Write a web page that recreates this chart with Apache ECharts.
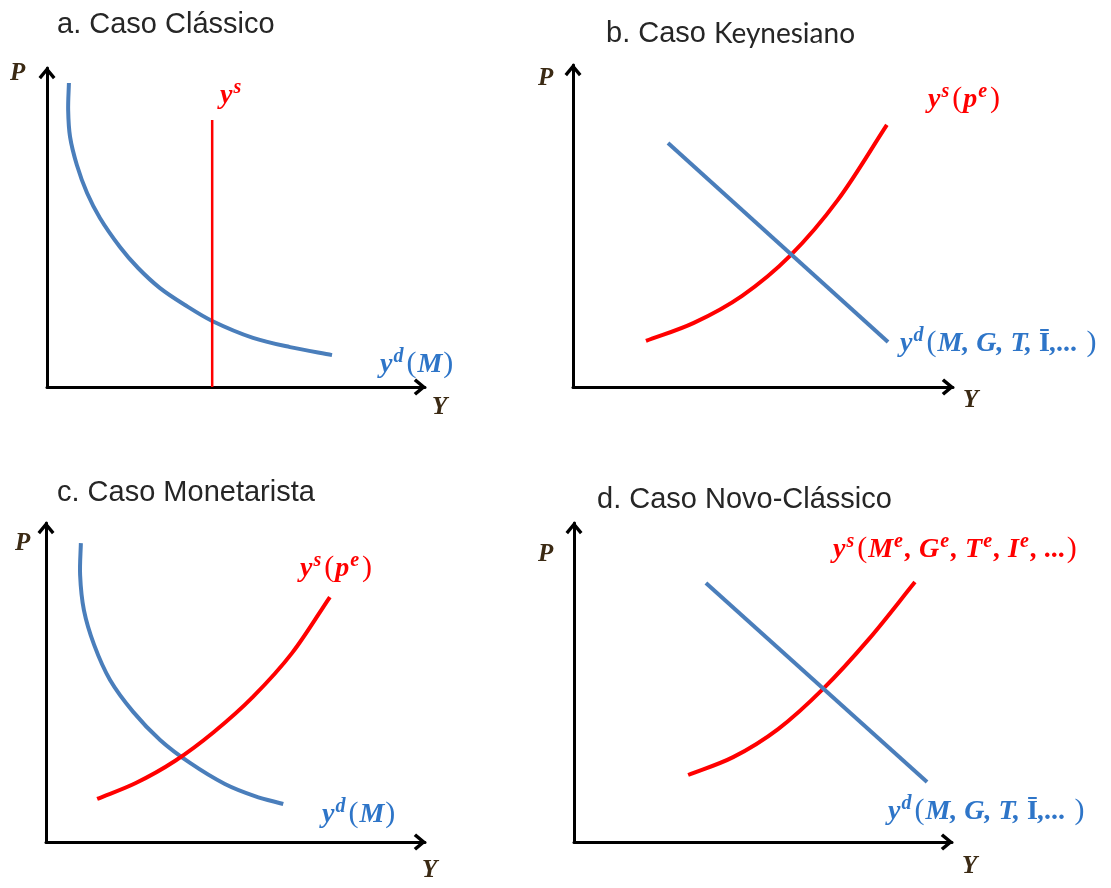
<!DOCTYPE html>
<html>
<head>
<meta charset="utf-8">
<script src="https://cdn.jsdelivr.net/npm/echarts@6/dist/echarts.min.js"></script>
<style>
  html, body { margin: 0; padding: 0; background: #ffffff; }
  #chart { width: 1111px; height: 888px; }
</style>
</head>
<body>
<div id="chart"></div>
<script>
// ---- Panel titles ----
const panelTitles = ['a. Caso Clássico', 'b. Caso ', 'c. Caso Monetarista', 'd. Caso Novo-Clássico'];
const keynesWord = 'Keynesiano';

// ---- Curves, in axis units (0..10 on both axes) ----
// a. Classical: aggregate demand hyperbola and vertical supply
const demandA = [[0.58, 9.53], [0.56, 8.68], [0.61, 7.84], [0.79, 6.96], [1.06, 6.08], [1.40, 5.30],
                 [1.93, 4.39], [2.41, 3.73], [2.99, 3.10], [3.65, 2.57], [4.37, 2.07], [5.45, 1.54],
                 [6.43, 1.25], [7.54, 1.00]];
const supplyA = [[4.37, 0], [4.37, 8.37]];
// b. Keynesian: straight demand, convex supply
const demandB = [[2.50, 7.58], [8.29, 1.40]];
const supplyB = [[1.92, 1.43], [3.18, 1.99], [4.45, 2.83], [5.71, 4.07], [6.97, 5.81], [8.26, 8.14]];
// c. Monetarist: demand hyperbola, convex supply
const demandC = [[0.92, 9.37], [0.90, 8.37], [1.00, 7.27], [1.27, 6.18], [1.69, 5.08], [2.30, 4.08],
                 [3.01, 3.20], [3.80, 2.48], [4.72, 1.82], [5.51, 1.44], [6.26, 1.19]];
const supplyC = [[1.35, 1.35], [2.37, 1.85], [3.40, 2.54], [4.43, 3.45], [5.46, 4.55], [6.49, 5.92],
                 [7.49, 7.68]];
// d. New classical: straight demand, convex supply
const demandD = [[3.49, 8.12], [9.34, 1.88]];
const supplyD = [[3.02, 2.10], [4.21, 2.66], [5.40, 3.54], [6.59, 4.80], [7.80, 6.36], [9.02, 8.15]];

// ---- Axis letters and curve labels (rich-text markup) ----
const axisNameP = 'P';
const axisNameY = 'Y';
const labelYsA = '{v|y}{s|s}';
const labelYdA = '{v|y}{s|d}{p|(}{v|M}{p|)}';
const labelYsB = '{v|y}{s|s}{p|(}{v|p}{s|e}{p|)}';
const labelYdB = '{v|y}{s|d}{p|(}{v|M, G, T, }{b|Ī}{v|,...}{p| )}';
const labelYsC = '{v|y}{s|s}{p|(}{v|p}{s|e}{p|)}';
const labelYdC = '{v|y}{s|d}{p|(}{v|M}{p|)}';
const labelYsD = '{v|y}{s|s}{p|(}{v|M}{s|e}{v|, G}{s|e}{v|, T}{s|e}{v|, I}{s|e}{v|, ...}{p|)}';
const labelYdD = '{v|y}{s|d}{p|(}{v|M, G, T, }{b|Ī}{v|,...}{p| )}';

const BLUE = '#4a7ebb';
const BLUE_TXT = '#2e75c8';
const RED = '#ff0000';
const INK = '#262626';
const AXIS_INK = '#3b2a14';

// open chevron arrow head, pointing up
const ARROW = 'path://M8 0 L16 9.6 L13.6 11.8 L8 5 L2.4 11.8 L0 9.6 Z';

const grids = [
  { left: 47, top: 68, width: 378, height: 319 },
  { left: 573, top: 65, width: 380, height: 322 },
  { left: 46, top: 523, width: 379, height: 319 },
  { left: 574, top: 523, width: 378, height: 319 }
];

function makeAxis(gridIndex) {
  return {
    type: 'value', gridIndex: gridIndex, min: 0, max: 10,
    axisLabel: { show: false }, axisTick: { show: false }, splitLine: { show: false },
    axisLine: {
      show: true, onZero: false,
      symbol: ['none', ARROW], symbolSize: [17, 13], symbolOffset: [0, -5],
      lineStyle: { color: '#000000', width: 3 }
    }
  };
}

// straight segments
function line(data, idx, color, width) {
  return {
    type: 'line', data: data, xAxisIndex: idx, yAxisIndex: idx,
    symbol: 'none', smooth: false, silent: true,
    lineStyle: { color: color, width: width, cap: 'butt' }
  };
}

// Smooth curve through pixel points: tangent at each point follows its
// neighbours, handle length is a third of the segment.
function smoothPathData(pts) {
  const n = pts.length;
  const tan = pts.map(function (p, i) {
    const a = pts[Math.max(i - 1, 0)], b = pts[Math.min(i + 1, n - 1)];
    const dx = b[0] - a[0], dy = b[1] - a[1];
    const len = Math.hypot(dx, dy) || 1;
    return [dx / len, dy / len];
  });
  let d = 'M' + pts[0][0] + ' ' + pts[0][1];
  for (let i = 0; i < n - 1; i++) {
    const p0 = pts[i], p1 = pts[i + 1];
    const h = Math.hypot(p1[0] - p0[0], p1[1] - p0[1]) / 3;
    d += ' C' + (p0[0] + tan[i][0] * h) + ' ' + (p0[1] + tan[i][1] * h) + ' '
       + (p1[0] - tan[i + 1][0] * h) + ' ' + (p1[1] - tan[i + 1][1] * h) + ' '
       + p1[0] + ' ' + p1[1];
  }
  return d;
}

function curve(data, idx, color, width) {
  return {
    type: 'custom', coordinateSystem: 'cartesian2d', xAxisIndex: idx, yAxisIndex: idx,
    silent: true, clip: false, data: data,
    renderItem: function (params, api) {
      if (params.dataIndex !== 0) return null;
      const pts = data.map(function (p) { return api.coord(p); });
      return {
        type: 'path',
        shape: { pathData: smoothPathData(pts) },
        style: { stroke: color, lineWidth: width, fill: 'none', lineJoin: 'round', lineCap: 'butt' }
      };
    }
  };
}

function mathRich(color) {
  const fam = '"Liberation Serif", "DejaVu Serif", serif';
  return {
    v: { fontFamily: fam, fontStyle: 'italic', fontWeight: 'bold', fontSize: 28, lineHeight: 35, fill: color },
    s: { fontFamily: fam, fontStyle: 'italic', fontWeight: 'bold', fontSize: 20, lineHeight: 20,
         verticalAlign: 'top', padding: [0, 2, 0, 1], fill: color },
    p: { fontFamily: fam, fontWeight: 'normal', fontSize: 30, lineHeight: 35, padding: [0, 1, 0, 1], fill: color },
    b: { fontFamily: fam, fontWeight: 'bold', fontSize: 28, lineHeight: 35, fill: color }
  };
}

function mathLabel(x, y, text, color) {
  return {
    type: 'text', x: x, y: y, silent: true,
    style: { text: text, rich: mathRich(color), fill: color, align: 'left', verticalAlign: 'top' }
  };
}

function axisLetter(x, y, text) {
  return {
    type: 'text', x: x, y: y, silent: true,
    style: {
      text: text, fill: AXIS_INK, align: 'left', verticalAlign: 'middle',
      font: 'italic bold 25px "Liberation Serif", serif'
    }
  };
}

function titleText(x, y, text) {
  return {
    type: 'text', x: x, y: y, silent: true,
    style: { text: text, fill: INK, align: 'left', verticalAlign: 'middle',
             font: '29px "Liberation Sans", Arial, sans-serif' }
  };
}

const chart = echarts.init(document.getElementById('chart'), null, { renderer: 'canvas' });

chart.setOption({
  backgroundColor: '#ffffff',
  animation: false,
  grid: grids,
  xAxis: [0, 1, 2, 3].map(makeAxis),
  yAxis: [0, 1, 2, 3].map(makeAxis),
  series: [
    curve(demandA, 0, BLUE, 4),
    line(supplyA, 0, RED, 2.5),
    line(demandB, 1, BLUE, 4),
    curve(supplyB, 1, RED, 4),
    curve(demandC, 2, BLUE, 4),
    curve(supplyC, 2, RED, 4),
    line(demandD, 3, BLUE, 4),
    curve(supplyD, 3, RED, 4)
  ],
  graphic: [
    titleText(57, 25, panelTitles[0]),
    {
      type: 'text', x: 606, y: 34, silent: true,
      style: {
        text: '{a|' + panelTitles[1] + '}{k|' + keynesWord + '}',
        verticalAlign: 'middle', align: 'left',
        rich: {
          a: { fontFamily: '"Liberation Sans", Arial, sans-serif', fontSize: 29, fill: INK },
          k: { fontFamily: 'Lato, "Open Sans", sans-serif', fontSize: 28, fill: INK }
        }
      }
    },
    titleText(57, 493, panelTitles[2]),
    titleText(597, 500, panelTitles[3]),

    axisLetter(10, 74, axisNameP), axisLetter(432, 408, axisNameY),
    axisLetter(538, 79, axisNameP), axisLetter(963, 401, axisNameY),
    axisLetter(15, 544, axisNameP), axisLetter(422, 871, axisNameY),
    axisLetter(538, 555, axisNameP), axisLetter(962, 867, axisNameY),

    mathLabel(220, 78, labelYsA, RED),
    mathLabel(380, 347, labelYdA, BLUE_TXT),
    mathLabel(928, 82, labelYsB, RED),
    mathLabel(900, 326, labelYdB, BLUE_TXT),
    mathLabel(300, 551, labelYsC, RED),
    mathLabel(322, 797, labelYdC, BLUE_TXT),
    mathLabel(833, 532, labelYsD, RED),
    mathLabel(888, 794, labelYdD, BLUE_TXT)
  ]
});
</script>
</body>
</html>
